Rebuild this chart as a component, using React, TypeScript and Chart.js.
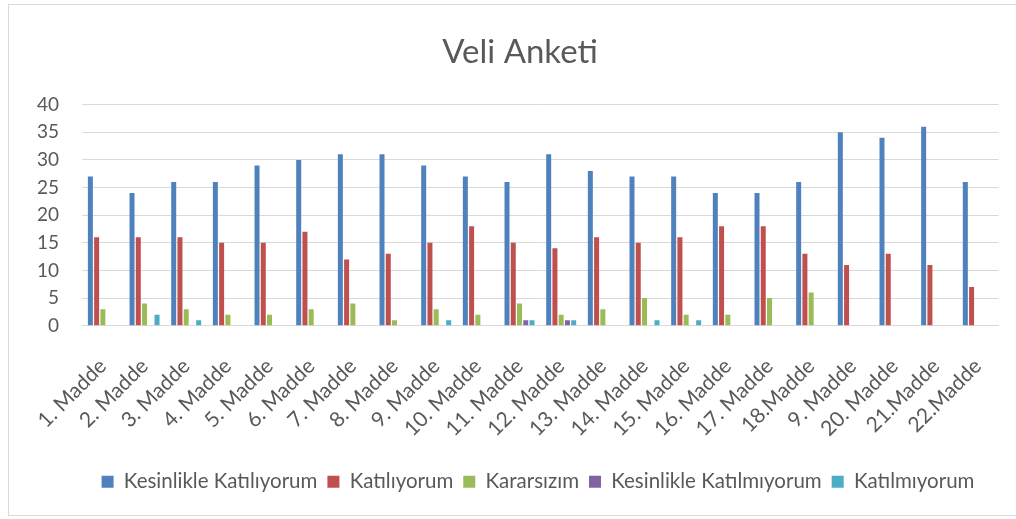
import React, { useEffect, useRef } from "react";
import Chart from "chart.js/auto";

const categories = [
  "1. Madde", "2. Madde", "3. Madde", "4. Madde", "5. Madde", "6. Madde",
  "7. Madde", "8. Madde", "9. Madde", "10. Madde", "11. Madde", "12. Madde",
  "13. Madde", "14. Madde", "15. Madde", "16. Madde", "17. Madde", "18.Madde",
  "9. Madde", "20. Madde", "21.Madde", "22.Madde",
];

const kesinlikleKatiliyorum = [27, 24, 26, 26, 29, 30, 31, 31, 29, 27, 26, 31, 28, 27, 27, 24, 24, 26, 35, 34, 36, 26];
const katiliyorum = [16, 16, 16, 15, 15, 17, 12, 13, 15, 18, 15, 14, 16, 15, 16, 18, 18, 13, 11, 13, 11, 7];
const kararsizim = [3, 4, 3, 2, 2, 3, 4, 1, 3, 2, 4, 2, 3, 5, 2, 2, 5, 6, 0, 0, 0, 0];
const kesinlikleKatilmiyorum = [0, 0, 0, 0, 0, 0, 0, 0, 0, 0, 1, 1, 0, 0, 0, 0, 0, 0, 0, 0, 0, 0];
const katilmiyorum = [0, 2, 1, 0, 0, 0, 0, 0, 1, 0, 1, 1, 0, 1, 1, 0, 0, 0, 0, 0, 0, 0];

const yTicks = [0, 5, 10, 15, 20, 25, 30, 35, 40];

const FONT = "Lato";
const TEXT = "#595959";

const shiftBoxes = {
  id: "shiftBoxes",
  afterLayout(chart: any) {
    const t = chart.titleBlock;
    if (t) {
      t.left += 13;
      t.right += 13;
    }
    const l = chart.legend;
    if (l) {
      l.left += 31;
      l.right += 31;
    }
  },
};

export default function App() {
  const ref = useRef<HTMLCanvasElement | null>(null);

  useEffect(() => {
    document.body.style.margin = "0";
    const ctx = ref.current!;
    const chart = new Chart(ctx, {
      type: "bar",
      data: {
        labels: categories,
        datasets: [
          { label: "Kesinlikle Katılıyorum", data: kesinlikleKatiliyorum, backgroundColor: "#4F81BD" },
          { label: "Katılıyorum", data: katiliyorum, backgroundColor: "#C0504D" },
          { label: "Kararsızım", data: kararsizim, backgroundColor: "#9BBB59" },
          { label: "Kesinlikle Katılmıyorum", data: kesinlikleKatilmiyorum, backgroundColor: "#8064A2" },
          { label: "Katılmıyorum", data: katilmiyorum, backgroundColor: "#4BACC6" },
        ],
      },
      options: {
        animation: false,
        responsive: false,
        maintainAspectRatio: false,
        datasets: { bar: { categoryPercentage: 0.75, barPercentage: 0.8 } },
        layout: { padding: { left: 14, right: 16, top: 0, bottom: 17 } },
        plugins: {
          title: {
            display: true,
            text: "Veli Anketi",
            color: TEXT,
            font: { family: FONT, size: 33, weight: "normal" },
            padding: { top: 33, bottom: 32 },
          },
          legend: {
            position: "bottom",
            labels: {
              color: TEXT,
              font: { family: FONT, size: 20.5 },
              boxWidth: 12,
              boxHeight: 12,
              padding: 10,
            },
          },
          tooltip: { enabled: false },
        },
        scales: {
          x: {
            grid: { display: false },
            border: { color: "#D9D9D9", width: 1 },
            ticks: {
              color: TEXT,
              font: { family: FONT, size: 21 },
              minRotation: 45,
              maxRotation: 45,
              autoSkip: false,
              padding: 20,
            },
          },
          y: {
            min: 0,
            max: 40,
            afterBuildTicks: (axis: any) => {
              axis.ticks = yTicks.map((v) => ({ value: v }));
            },
            grid: { color: "#D9D9D9", lineWidth: 1, drawTicks: false },
            border: { display: false },
            ticks: {
              color: TEXT,
              font: { family: FONT, size: 19 },
              padding: 23,
            },
          },
        },
      },
      plugins: [shiftBoxes],
    });
    return () => chart.destroy();
  }, []);

  return (
    <div style={{ position: "relative", width: 1016, height: 519, background: "#fff", overflow: "hidden" }}>
      <div
        style={{
          position: "absolute",
          left: 8,
          top: 4,
          width: 1020,
          height: 512,
          border: "1px solid #D9D9D9",
          boxSizing: "border-box",
        }}
      />
      <canvas ref={ref} width={1016} height={519} style={{ position: "absolute", left: 0, top: 0 }} />
    </div>
  );
}
